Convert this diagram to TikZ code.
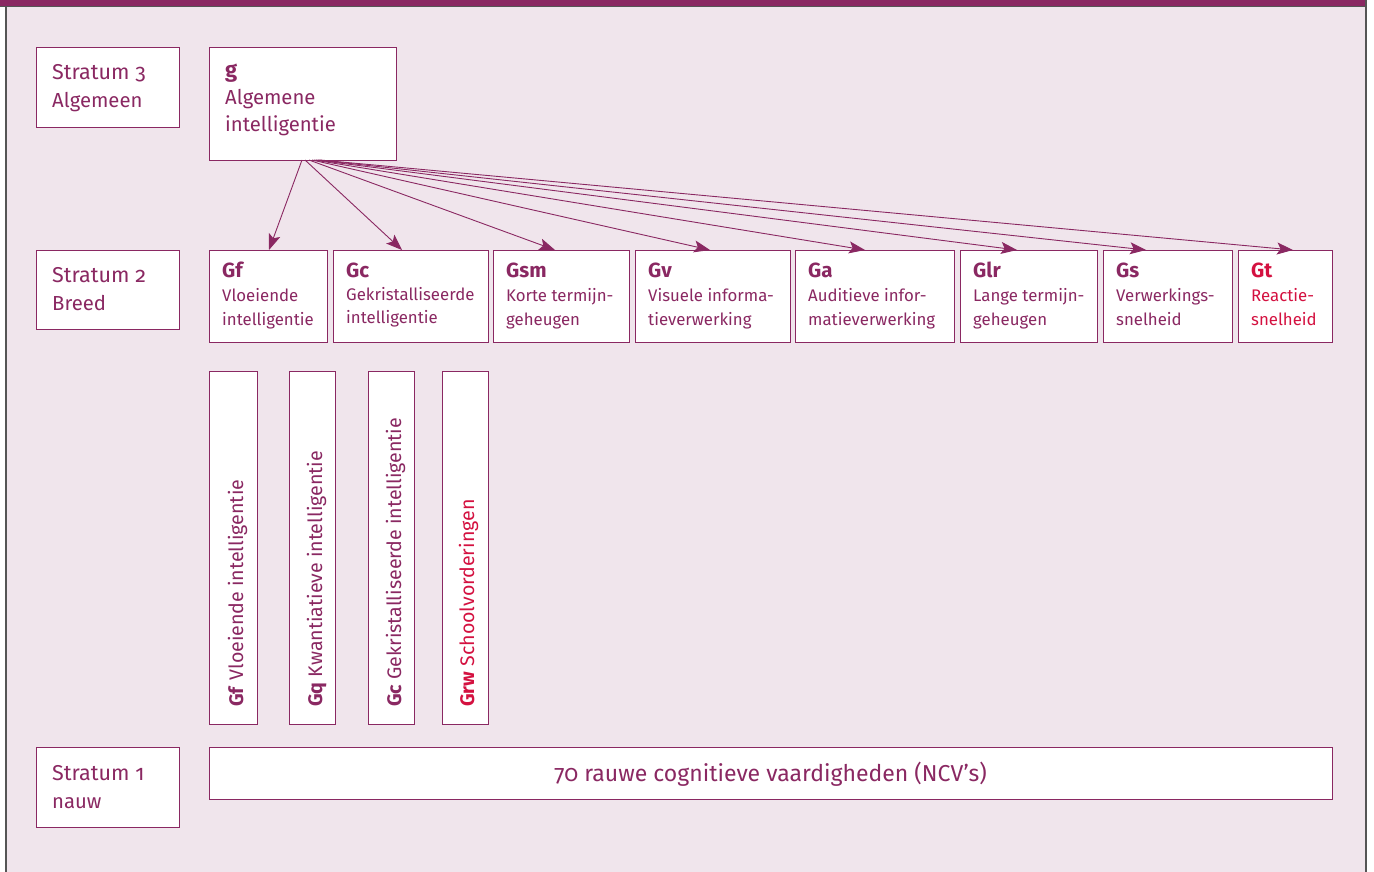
\documentclass[tikz,border=0pt]{standalone}
\usepackage{fontspec}
\setmainfont{Fira Sans}[Numbers=OldStyle]
\usetikzlibrary{arrows.meta}
\definecolor{pur}{HTML}{8A2862}
\definecolor{bgp}{HTML}{F0E5EC}
\definecolor{rd}{HTML}{D41140}
\definecolor{frm}{HTML}{555555}
\begin{document}
\begin{tikzpicture}[x=1pt,y=-1pt,
  box/.style={draw=pur, line width=0.85pt, fill=white, inner sep=0pt, outer sep=0pt, anchor=north west},
  lbl/.style={anchor=base west, inner sep=0pt, text=pur, font=\fontsize{16.8}{18}\selectfont},
  ttl/.style={anchor=base west, inner sep=0pt, text=pur, font=\fontsize{20.5}{22}\selectfont\bfseries},
  strat/.style={anchor=base west, inner sep=0pt, text=pur, font=\fontsize{21.5}{24}\selectfont},
  strb/.style={anchor=base west, inner sep=0pt, text=pur, font=\fontsize{20.3}{24}\selectfont},
  vlbl/.style={anchor=base west, inner sep=0pt, rotate=90, text=pur, font=\fontsize{19.6}{22}\selectfont},
  arr/.style={draw=pur, line width=0.9pt, -{Stealth[length=16pt,width=12pt,inset=3.5pt]}}]
\useasboundingbox (0,0) rectangle (1374,872);
% frame
\fill[white] (0,0) rectangle (1374,872);
\fill[bgp] (6,7) rectangle (1365.5,872);
\fill[pur] (0,0) rectangle (1366,6);
\draw[frm, line width=1pt] (0,6.5) -- (1366,6.5);
\draw[frm, line width=1.5pt] (5.8,6) -- (5.8,872);
\draw[frm, line width=1.5pt] (1365.8,0) -- (1365.8,872);
% stratum label boxes
\node[box, minimum width=143, minimum height=80] (s3) at (36,47) {};
\node[box, minimum width=143, minimum height=79] (s2) at (36,250) {};
\node[box, minimum width=143, minimum height=80] (s1) at (36,747) {};
\node[strat] (s3a) at (52,80) {Stratum 3};
\node[strb] (s3b) at (52,108) {Algemeen};
\node[strat] (s2a) at (52,282) {Stratum 2};
\node[strb] (s2b) at (52,310) {Breed};
\node[strat] (s1a) at (52,780) {Stratum 1};
\node[strb] (s1b) at (52,808) {nauw};
% g box
\node[box, minimum width=187, minimum height=113] (g) at (209,47) {};
\node[ttl, font=\fontsize{22}{24}\selectfont\bfseries] (gt) at (225,78) {g};
\node[strb] (ga1) at (225,105) {Algemene};
\node[strb] (ga2) at (225,132) {intelligentie};
% stratum 2 boxes
\node[box, minimum width=118, minimum height=92] (gf) at (209,250) {};
\node[box, minimum width=155, minimum height=92] (gc) at (333,250) {};
\node[box, minimum width=136, minimum height=92] (gsm) at (493,250) {};
\node[box, minimum width=155, minimum height=92] (gv) at (635,250) {};
\node[box, minimum width=159, minimum height=92] (gaa) at (795,250) {};
\node[box, minimum width=137, minimum height=92] (glr) at (960,250) {};
\node[box, minimum width=129, minimum height=92] (gs) at (1103,250) {};
\node[box, minimum width=94, minimum height=92] (gtt) at (1238,250) {};
% texts
\node[ttl] (gf0) at (222,277) {Gf};
\node[lbl] (gf1) at (222,301) {Vloeiende};
\node[lbl] (gf2) at (222,325) {intelligentie};
\node[ttl] (gc0) at (346,277) {Gc};
\node[lbl] (gc1) at (346,300) {Gekristalliseerde};
\node[lbl] (gc2) at (346,323) {intelligentie};
\node[ttl] (gsm0) at (506,277) {Gsm};
\node[lbl] (gsm1) at (506,301) {Korte termijn-};
\node[lbl] (gsm2) at (506,325) {geheugen};
\node[ttl] (gv0) at (648,277) {Gv};
\node[lbl] (gv1) at (648,301) {Visuele informa-};
\node[lbl] (gv2) at (648,325) {tieverwerking};
\node[ttl] (ga0) at (808,277) {Ga};
\node[lbl] (gaa1) at (808,301) {Auditieve infor-};
\node[lbl] (gaa2) at (808,325) {matieverwerking};
\node[ttl] (glr0) at (973,277) {Glr};
\node[lbl] (glr1) at (973,301) {Lange termijn-};
\node[lbl] (glr2) at (973,325) {geheugen};
\node[ttl] (gs0) at (1116,277) {Gs};
\node[lbl] (gs1) at (1116,301) {Verwerkings-};
\node[lbl] (gs2) at (1116,325) {snelheid};
\node[ttl, text=rd] (gt0) at (1251,277) {Gt};
\node[lbl, text=rd] (gt1) at (1251,301) {Reactie-};
\node[lbl, text=rd] (gt2) at (1251,325) {snelheid};
% arrows
\draw[arr] ([xshift=93pt]g.south west) -- ([xshift=60pt]gf.north west);
\draw[arr] ([xshift=96pt]g.south west) -- ([xshift=69pt]gc.north west);
\draw[arr] ([xshift=100pt]g.south west) -- ([xshift=62pt]gsm.north west);
\draw[arr] ([xshift=103pt]g.south west) -- ([xshift=75pt]gv.north west);
\draw[arr] ([xshift=105pt]g.south west) -- ([xshift=70pt]gaa.north west);
\draw[arr] ([xshift=107pt]g.south west) -- ([xshift=57pt]glr.north west);
\draw[arr] ([xshift=109pt]g.south west) -- ([xshift=43pt]gs.north west);
\draw[arr] ([xshift=111pt]g.south west) -- ([xshift=55pt]gtt.north west);
% vertical boxes
\node[box, minimum width=48, minimum height=353] (v1) at (209,371) {};
\node[box, minimum width=46, minimum height=353] (v2) at (289,371) {};
\node[box, minimum width=46, minimum height=353] (v3) at (368,371) {};
\node[box, minimum width=46, minimum height=353] (v4) at (442,371) {};
\node[vlbl] (v1t) at (243,707) {\textbf{Gf} Vloeiende intelligentie};
\node[vlbl] (v2t) at (322,707) {\textbf{Gq} Kwantiatieve intelligentie};
\node[vlbl] (v3t) at (401,707) {\textbf{Gc} Gekristalliseerde intelligentie};
\node[vlbl, text=rd] (v4t) at (474,707) {\textbf{Grw} Schoolvorderingen};
% stratum 1
\node[box, minimum width=1123, minimum height=52] (ncv) at (209,747) {};
\node[anchor=base, inner sep=0pt, text=pur, font=\fontsize{23}{25}\selectfont] (ncvt) at (770.5,781) {70 rauwe cognitieve vaardigheden (NCV’s)};
\end{tikzpicture}
\end{document}
